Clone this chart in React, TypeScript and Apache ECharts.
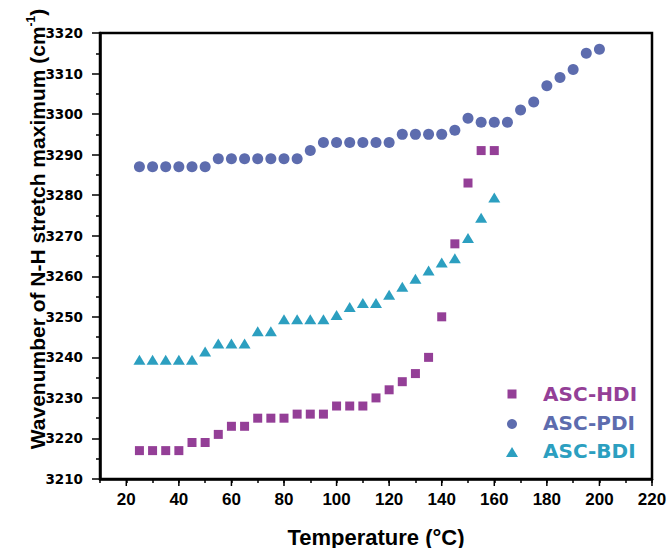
import { useEffect, useRef } from 'react';
import * as echarts from 'echarts';

const hdiTemps = [25, 30, 35, 40, 45, 50, 55, 60, 65, 70, 75, 80, 85, 90, 95, 100, 105, 110, 115, 120, 125, 130, 135, 140, 145, 150, 155, 160];
const hdiValues = [3217, 3217, 3217, 3217, 3219, 3219, 3221, 3223, 3223, 3225, 3225, 3225, 3226, 3226, 3226, 3228, 3228, 3228, 3230, 3232, 3234, 3236, 3240, 3250, 3268, 3283, 3291, 3291];

const pdiTemps = [25, 30, 35, 40, 45, 50, 55, 60, 65, 70, 75, 80, 85, 90, 95, 100, 105, 110, 115, 120, 125, 130, 135, 140, 145, 150, 155, 160, 165, 170, 175, 180, 185, 190, 195, 200];
const pdiValues = [3287, 3287, 3287, 3287, 3287, 3287, 3289, 3289, 3289, 3289, 3289, 3289, 3289, 3291, 3293, 3293, 3293, 3293, 3293, 3293, 3295, 3295, 3295, 3295, 3296, 3299, 3298, 3298, 3298, 3301, 3303, 3307, 3309, 3311, 3315, 3316];

const bdiTemps = [25, 30, 35, 40, 45, 50, 55, 60, 65, 70, 75, 80, 85, 90, 95, 100, 105, 110, 115, 120, 125, 130, 135, 140, 145, 150, 155, 160];
const bdiValues = [3239, 3239, 3239, 3239, 3239, 3241, 3243, 3243, 3243, 3246, 3246, 3249, 3249, 3249, 3249, 3250, 3252, 3253, 3253, 3255, 3257, 3259, 3261, 3263, 3264, 3269, 3274, 3279];

const X_MIN = 10;
const X_MAX = 220;
const Y_MIN = 3210;
const Y_MAX = 3320;
const xMajorTicks = [20, 40, 60, 80, 100, 120, 140, 160, 180, 200, 220];
const seriesNames = ['ASC-HDI', 'ASC-PDI', 'ASC-BDI'];
const xTitle = 'Temperature (°C)';
const yTitleMain = 'Wavenumber of N-H stretch maximum (cm';
const yTitleSup = '-1';

const HDI_COLOR = '#943f97';
const PDI_COLOR = '#5d6cae';
const BDI_COLOR = '#2c9fc0';

const zip = (xs: number[], ys: number[]) => xs.map((x, i) => [x, ys[i]]);
const ok = (p: any) => Array.isArray(p) && Number.isFinite(p[0]) && Number.isFinite(p[1]);

export default function App() {
  const ref = useRef<HTMLDivElement>(null);
  useEffect(() => {
    const chart = echarts.init(ref.current!, null, { renderer: 'svg' });
    const legendFont = { fontFamily: 'DejaVu Sans', fontWeight: 'bold', fontSize: 20 };
    chart.setOption({
      animation: false,
      backgroundColor: '#fff',
      grid: { left: 100, right: 18, top: 33, bottom: 69 },
      xAxis: {
        type: 'value', position: 'bottom', min: X_MIN, max: X_MAX, interval: 10,
        axisLine: { show: true, onZero: false, lineStyle: { color: '#000', width: 2.5 } },
        axisTick: { show: true, length: 4, lineStyle: { color: '#000', width: 1.5 } },
        axisLabel: {
          formatter: (v: number) => (v % 20 === 0 ? String(v) : ''),
          margin: 12, fontFamily: 'Liberation Sans', fontWeight: 'bold', fontSize: 17, color: '#000',
        },
        splitLine: { show: false },
      },
      yAxis: {
        type: 'value', position: 'left', min: Y_MIN, max: Y_MAX, interval: 10,
        axisLine: { show: true, onZero: false, lineStyle: { color: '#000', width: 2.5 } },
        axisTick: { show: true, length: 8, lineStyle: { color: '#000', width: 1.5 } },
        minorTick: { show: true, splitNumber: 2, length: 4, lineStyle: { color: '#000', width: 1.5 } },
        axisLabel: {
          formatter: (v: number) => String(v),
          margin: 17, fontFamily: 'DejaVu Sans', fontWeight: 'bold', fontSize: 13.5, color: '#000',
        },
        splitLine: { show: false },
        minorSplitLine: { show: false },
      },
      series: [
        {
          name: seriesNames[1], type: 'scatter', symbol: 'circle', symbolSize: 11,
          itemStyle: { color: PDI_COLOR, opacity: 1 }, data: zip(pdiTemps, pdiValues),
        },
        {
          name: seriesNames[2], type: 'scatter', symbol: 'triangle', symbolSize: [12, 10],
          symbolOffset: [0, -1.7],
          itemStyle: { color: BDI_COLOR, opacity: 1 }, data: zip(bdiTemps, bdiValues),
        },
        {
          name: seriesNames[0], type: 'scatter', symbol: 'rect', symbolSize: 9,
          itemStyle: { color: HDI_COLOR, opacity: 1 }, data: zip(hdiTemps, hdiValues),
        },
      ],
    });

    const finder = { xAxisIndex: 0, yAxisIndex: 0 };
    let tl: any = chart.convertToPixel(finder, [X_MIN, Y_MAX]);
    let br: any = chart.convertToPixel(finder, [X_MAX, Y_MIN]);
    if (!ok(tl)) tl = [100, 33];
    if (!ok(br)) br = [652, 479];
    const left = tl[0];
    const top = tl[1];
    const right = br[0];
    const bottom = br[1];
    const lw = 2.5;

    const majorTickRects = xMajorTicks.map((v) => {
      const p: any = chart.convertToPixel(finder, [v, Y_MIN]);
      const px = ok(p) ? p[0] : left + ((v - X_MIN) / (X_MAX - X_MIN)) * (right - left);
      return { type: 'rect', z: 100, shape: { x: px - 0.75, y: bottom, width: 1.5, height: 7 }, style: { fill: '#000' } };
    });

    chart.setOption({
      graphic: [
        {
          type: 'rect', z: 100, silent: true,
          shape: { x: left, y: top, width: right - left, height: bottom - top },
          style: { fill: 'none', stroke: '#000', lineWidth: lw },
        },
        ...majorTickRects,
        {
          type: 'text', x: 376, y: 537,
          style: { text: xTitle, align: 'center', verticalAlign: 'middle', fill: '#000', fontFamily: 'Liberation Sans', fontWeight: 'bold', fontSize: 22 },
        },
        {
          type: 'text', x: 37, y: 229, rotation: Math.PI / 2,
          style: {
            text: `{a|${yTitleMain}}{s|${yTitleSup}}{a|)}`,
            align: 'center', verticalAlign: 'middle', fill: '#000',
            rich: {
              a: { fontFamily: 'Liberation Sans', fontWeight: 'bold', fontSize: 21, lineHeight: 24, fill: '#000' },
              s: { fontFamily: 'Liberation Sans', fontWeight: 'bold', fontSize: 12, lineHeight: 12, verticalAlign: 'top', fill: '#000' },
            },
          },
        },
        { type: 'rect', shape: { x: 507.5, y: 389.5, width: 9, height: 9 }, style: { fill: HDI_COLOR } },
        { type: 'circle', shape: { cx: 512, cy: 424, r: 5 }, style: { fill: PDI_COLOR } },
        { type: 'polygon', shape: { points: [[512, 447], [518, 457], [506, 457]] }, style: { fill: BDI_COLOR } },
        { type: 'text', x: 543, y: 394, style: { text: seriesNames[0], align: 'left', verticalAlign: 'middle', fill: HDI_COLOR, ...legendFont } },
        { type: 'text', x: 543, y: 423, style: { text: seriesNames[1], align: 'left', verticalAlign: 'middle', fill: PDI_COLOR, ...legendFont } },
        { type: 'text', x: 543, y: 451, style: { text: seriesNames[2], align: 'left', verticalAlign: 'middle', fill: BDI_COLOR, ...legendFont } },
      ],
    });
    return () => chart.dispose();
  }, []);
  return <div ref={ref} style={{ position: 'absolute', left: 0, top: 0, width: 670, height: 548, background: '#fff' }} />;
}
